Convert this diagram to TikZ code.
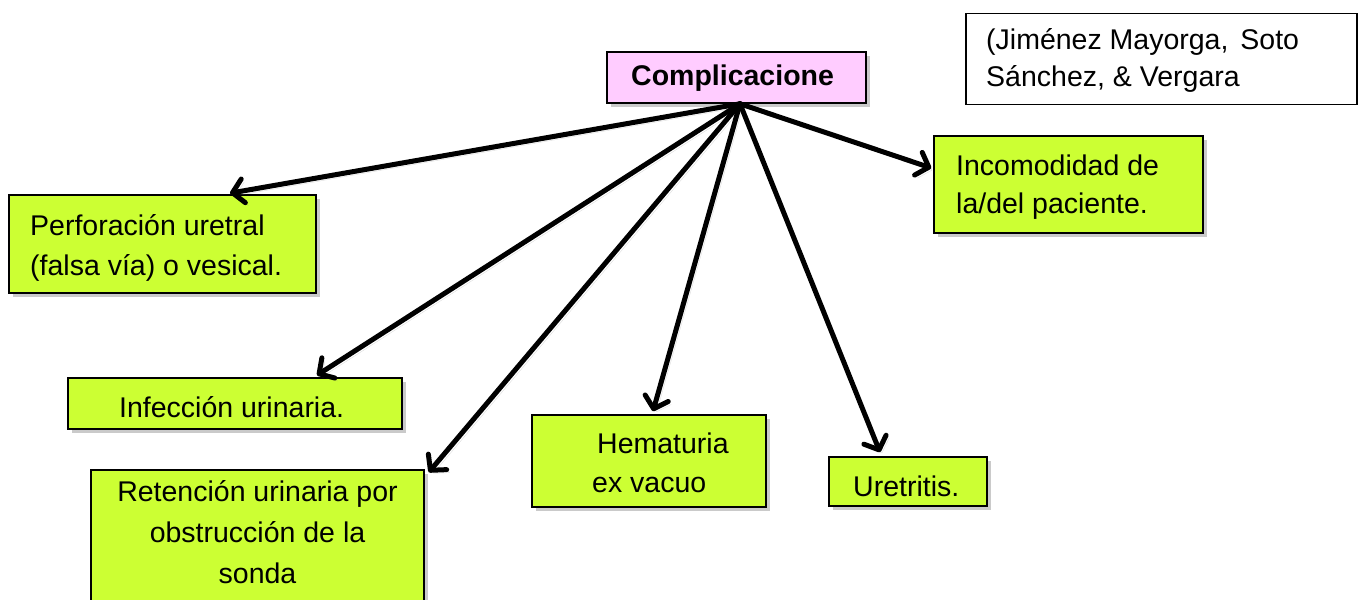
\documentclass[tikz,border=0pt]{standalone}
\usepackage{fontspec}
\setmainfont{Liberation Sans}
\usetikzlibrary{arrows.meta,shadows,calc}
\definecolor{boxgreen}{HTML}{CCFF33}
\definecolor{boxpink}{HTML}{FFCCFF}

\tikzset{
  box/.style={draw=black, line width=1.6pt, fill=boxgreen, inner sep=0pt,
    drop shadow={shadow xshift=3.5pt, shadow yshift=-3.5pt, opacity=0.35, fill=black!60}},
  citebox/.style={draw=black, line width=1.6pt, fill=white, inner sep=0pt},
  txt/.style={inner sep=0pt, font=\fontsize{28.5}{39}\selectfont},
  arr/.style={line width=5pt, line cap=round,
    -{Straight Barb[length=11pt,width=24pt,round]},
    preaction={draw=black!45, opacity=0.3,
      transform canvas={xshift=3pt,yshift=-3pt}}},
}

\begin{document}
\begin{tikzpicture}[x=1pt,y=-1pt]
  \useasboundingbox (0,0) rectangle (1361,600);
  \clip (0,0) rectangle (1361,600);

  % boxes
  \node[box, fill=boxpink, minimum width=259pt, minimum height=51pt] (top) at (736.5,77.5) {};
  \node[box, minimum width=307pt, minimum height=98pt]  (perf) at (162.5,244) {};
  \node[box, minimum width=334pt, minimum height=51pt]  (infe) at (235,403.5) {};
  \node[box, minimum width=333pt, minimum height=150pt] (rete) at (257.5,545) {};
  \node[box, minimum width=234pt, minimum height=92pt]  (hema) at (649,461) {};
  \node[box, minimum width=158pt, minimum height=49pt]  (uret) at (908,481.5) {};
  \node[box, minimum width=269pt, minimum height=97pt]  (inco) at (1068.5,184.5) {};
  \node[citebox, minimum width=391pt, minimum height=91pt] (cite) at (1161.5,59) {};

  % texts
  \node[txt, anchor=base west, font=\fontsize{28.5}{39}\selectfont\bfseries] (top-t) at (631,85) {Complicacione};
  \node[txt, anchor=base west] (perf-1) at (30,235) {Perforación uretral};
  \node[txt, anchor=base west] (perf-2) at (30,275) {(falsa vía) o vesical.};
  \node[txt, anchor=base west] (infe-t) at (119,417) {Infección urinaria.};
  \node[txt, anchor=base] (rete-1) at (257.5,501) {Retención urinaria por};
  \node[txt, anchor=base] (rete-2) at (257.5,542) {obstrucción de la};
  \node[txt, anchor=base] (rete-3) at (257.5,583) {sonda};
  \node[txt, anchor=base west] (hema-1) at (597,453) {Hematuria};
  \node[txt, anchor=base west] (hema-2) at (592,492) {ex vacuo};
  \node[txt, anchor=base west] (uret-t) at (853,496) {Uretritis.};
  \node[txt, anchor=base west] (inco-1) at (956,175) {Incomodidad de};
  \node[txt, anchor=base west] (inco-2) at (956,213) {la/del paciente.};
  \node[txt, anchor=base west] (cite-1) at (986,49) {(Jiménez Mayorga,\hspace{4pt} Soto};
  \node[txt, anchor=base west] (cite-2) at (986,86) {Sánchez, \& Vergara};

  % connectors
  \coordinate (src) at ($(top.south)+(3.5,0)$);
  \draw[arr] (src) -- ($(perf.north)+(67.5,-1)$);
  \draw[arr] (src) -- ($(infe.north)+(82,-2)$);
  \draw[arr] (src) -- ($(rete.north east)+(4,3)$);
  \draw[arr] (src) -- ($(hema.north)+(4,-3)$);
  \draw[arr] (src) -- ($(uret.north)+(-28,-4)$);
  \draw[arr] (src) -- ($(inco.west)+(-2,-16.5)$);
\end{tikzpicture}
\end{document}
